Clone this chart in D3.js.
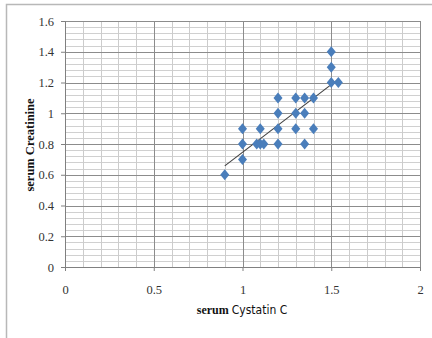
<!DOCTYPE html>
<html>
<head>
<meta charset="utf-8">
<script src="https://cdn.jsdelivr.net/npm/d3@7"></script>
<style>
  body { margin: 0; background: #fff; }
  svg { display: block; }
  .tick text { font-family: "Liberation Serif", "Times New Roman", serif; font-size: 12.5px; fill: #333; }
</style>
</head>
<body>
<div id="chart"></div>
<script>
// values
var cystatinC = [0.9, 1.0, 1.0, 1.0, 1.1, 1.08, 1.1, 1.12, 1.2, 1.2, 1.2, 1.2,
                 1.3, 1.35, 1.4, 1.3, 1.35, 1.3, 1.4, 1.35, 1.5, 1.5, 1.5, 1.54];
var creatinine = [0.6, 0.9, 0.8, 0.7, 0.9, 0.8, 0.8, 0.8, 1.1, 1.0, 0.9, 0.8,
                  1.1, 1.1, 1.1, 1.0, 1.0, 0.9, 0.9, 0.8, 1.4, 1.3, 1.2, 1.2];
var xTicks = [0, 0.5, 1, 1.5, 2];
var yTicks = [0, 0.2, 0.4, 0.6, 0.8, 1, 1.2, 1.4, 1.6];

var svgWidth = 432;
var svgHeight = 338;
var margin = { top: 21, right: 12, bottom: 71, left: 65 };
var width = 420 - margin.left;
var height = 267 - margin.top;

var svg = d3.select("#chart").append("svg")
  .attr("width", svgWidth)
  .attr("height", svgHeight);

// outer chart frame (cropped on the right and bottom)
svg.append("path")
  .attr("d", "M6.5,340 V4.5 H440")
  .attr("fill", "none")
  .attr("stroke", "#b8b8b8")
  .attr("stroke-width", 1.5);

var chartGroup = svg.append("g")
  .attr("transform", `translate(${margin.left},${margin.top})`);

var x = d3.scaleLinear().domain([0, 2]).range([0, width]);
var y = d3.scaleLinear().domain([0, 1.6]).range([height, 0]);

// minor grid
var xMinor = d3.range(0, 2.0001, 0.1);
var yMinor = d3.range(0, 1.6001, 0.04);

chartGroup.append("g").selectAll("line")
  .data(yMinor)
  .enter().append("line")
  .attr("x1", 0).attr("x2", width)
  .attr("y1", d => Math.round(y(d)) + 0.5)
  .attr("y2", d => Math.round(y(d)) + 0.5)
  .attr("stroke", "#d0d0d0");

chartGroup.append("g").selectAll("line")
  .data(xMinor)
  .enter().append("line")
  .attr("y1", 0).attr("y2", height)
  .attr("x1", d => Math.round(x(d)) + 0.5)
  .attr("x2", d => Math.round(x(d)) + 0.5)
  .attr("stroke", "#cccccc");

// major grid
chartGroup.append("g").selectAll("line")
  .data(yTicks)
  .enter().append("line")
  .attr("x1", 0).attr("x2", width)
  .attr("y1", d => Math.round(y(d)) + 0.5)
  .attr("y2", d => Math.round(y(d)) + 0.5)
  .attr("stroke", "#8c8c8c");

chartGroup.append("g").selectAll("line")
  .data(xTicks)
  .enter().append("line")
  .attr("y1", 0).attr("y2", height)
  .attr("x1", d => Math.round(x(d)) + 0.5)
  .attr("x2", d => Math.round(x(d)) + 0.5)
  .attr("stroke", "#8c8c8c");

// axes
var bottomAxis = d3.axisBottom(x).tickValues(xTicks).tickSize(4).tickPadding(14)
  .tickFormat(d3.format("~g"));
var leftAxis = d3.axisLeft(y).tickValues(yTicks).tickSize(4).tickPadding(7)
  .tickFormat(d3.format("~g"));

var xAxis = chartGroup.append("g")
  .attr("transform", `translate(0, ${height})`)
  .call(bottomAxis);
var yAxis = chartGroup.append("g")
  .call(leftAxis);

[xAxis, yAxis].forEach(function(ax) {
  ax.select(".domain").attr("stroke", "#808080");
  ax.selectAll(".tick line").attr("stroke", "#808080");
});

// trend line (least squares over the points)
var mx = d3.mean(cystatinC), my = d3.mean(creatinine);
var sxy = d3.sum(cystatinC, (v, i) => (v - mx) * (creatinine[i] - my));
var sxx = d3.sum(cystatinC, v => (v - mx) * (v - mx));
var slope = sxy / sxx;
var intercept = my - slope * mx;
var xExt = d3.extent(cystatinC);

chartGroup.append("line")
  .attr("x1", x(xExt[0])).attr("y1", y(intercept + slope * xExt[0]))
  .attr("x2", x(xExt[1])).attr("y2", y(intercept + slope * xExt[1]))
  .attr("stroke", "#404040")
  .attr("stroke-width", 1.1);

// diamond markers
chartGroup.selectAll("path.pt")
  .data(cystatinC)
  .enter().append("path")
  .attr("class", "pt")
  .attr("d", "M0,-5.5 L4.5,0 L0,5.5 L-4.5,0 Z")
  .attr("transform", (d, i) => `translate(${x(d)},${y(creatinine[i])})`)
  .attr("fill", "#4a7ebb");

// axis titles
var xTitle = svg.append("text")
  .attr("x", 242)
  .attr("y", 314)
  .attr("text-anchor", "middle")
  .attr("fill", "#111");
xTitle.append("tspan")
  .attr("font-family", "Liberation Serif, Times New Roman, serif")
  .attr("font-weight", "bold")
  .attr("font-size", "12px")
  .text("serum ");
xTitle.append("tspan")
  .attr("font-family", "Liberation Sans Narrow, DejaVu Sans Condensed, sans-serif")
  .attr("font-size", "12px")
  .text("Cystatin C");

svg.append("text")
  .attr("transform", "translate(34,145) rotate(-90)")
  .attr("text-anchor", "middle")
  .attr("font-family", "Liberation Serif, Times New Roman, serif")
  .attr("font-weight", "bold")
  .attr("font-size", "12.5px")
  .attr("fill", "#111")
  .text("serum  Creatinine");
</script>
</body>
</html>
